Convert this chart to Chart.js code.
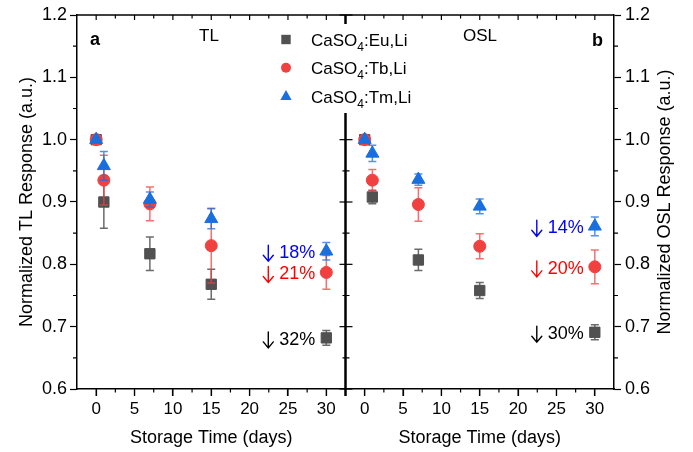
<!DOCTYPE html>
<html>
<head>
<meta charset="utf-8">
<script src="https://cdn.jsdelivr.net/npm/chart.js@4.4.1/dist/chart.umd.min.js"></script>
<style>
  html, body { margin: 0; padding: 0; background: #fff; }
  #wrap { width: 693px; height: 452px; }
</style>
</head>
<body>
<div id="wrap"><canvas id="chart" width="693" height="452"></canvas></div>
<script>
// storage time (days)
const days = [0, 1, 7, 15, 30];
const xTicks = [0, 5, 10, 15, 20, 25, 30];
const yTicks = [0.6, 0.7, 0.8, 0.9, 1.0, 1.1, 1.2];

// legend: CaSO4:Eu,Li / CaSO4:Tb,Li / CaSO4:Tm,Li
const dopants = [':Eu,Li', ':Tb,Li', ':Tm,Li'];

// panel a - TL
const tlEu = [1.000, 0.900, 0.817, 0.768, 0.682];
const tlEuErr = [0.004, 0.042, 0.027, 0.024, 0.012];
const tlTb = [1.000, 0.935, 0.897, 0.830, 0.787];
const tlTbErr = [0.004, 0.040, 0.027, 0.060, 0.027];
const tlTm = [1.000, 0.958, 0.904, 0.873, 0.821];
const tlTmErr = [0.003, 0.023, 0.012, 0.016, 0.014];
const tlDrop = ['32%', '21%', '18%'];

// panel b - OSL
const oslEu = [1.000, 0.908, 0.807, 0.758, 0.691];
const oslEuErr = [0.004, 0.011, 0.017, 0.013, 0.012];
const oslTb = [1.000, 0.935, 0.896, 0.829, 0.796];
const oslTbErr = [0.004, 0.017, 0.027, 0.020, 0.027];
const oslTm = [1.000, 0.978, 0.936, 0.893, 0.861];
const oslTmErr = [0.003, 0.013, 0.009, 0.012, 0.015];
const oslDrop = ['30%', '20%', '14%'];

const FONT = "'Liberation Sans', Arial, sans-serif";
const colors = ['#515151', '#F14040', '#1A6FDF'];
const errColors = ['rgba(81,81,81,0.85)', 'rgba(241,64,64,0.75)', 'rgba(26,111,223,0.75)'];
const textColors = ['#000000', '#ff0000', '#0000ff'];
const shapes = ['rect', 'circle', 'triangle'];
const radii = [7.3, 6, 7.5];

function makeSet(values, errs, k, xAxisID, drop) {
  return {
    label: 'CaSO4' + dopants[k],
    xAxisID: xAxisID,
    yAxisID: 'y',
    data: days.map((d, i) => ({ x: d, y: values[i] })),
    err: errs,
    drop: drop,
    k: k,
    pointStyle: shapes[k],
    pointRadius: radii[k],
    pointHoverRadius: radii[k],
    backgroundColor: colors[k],
    borderColor: colors[k],
    borderWidth: 1,
    showLine: false,
    order: 3 - k
  };
}

const datasets = [
  makeSet(tlEu, tlEuErr, 0, 'x1', tlDrop[0]),
  makeSet(tlTb, tlTbErr, 1, 'x1', tlDrop[1]),
  makeSet(tlTm, tlTmErr, 2, 'x1', tlDrop[2]),
  makeSet(oslEu, oslEuErr, 0, 'x2', oslDrop[0]),
  makeSet(oslTb, oslTbErr, 1, 'x2', oslDrop[1]),
  makeSet(oslTm, oslTmErr, 2, 'x2', oslDrop[2])
];

// error bars, drawn just before each dataset's symbols
const errorBars = {
  id: 'errorBars',
  beforeDatasetDraw(chart, args) {
    const ds = chart.data.datasets[args.index];
    const xs = chart.scales[args.meta.xAxisID];
    const ys = chart.scales.y;
    const ctx = chart.ctx;
    ctx.save();
    ctx.strokeStyle = errColors[ds.k];
    ctx.lineWidth = 1.5;
    ds.data.forEach((p, i) => {
      const px = xs.getPixelForValue(p.x);
      const y1 = ys.getPixelForValue(p.y + ds.err[i]);
      const y2 = ys.getPixelForValue(p.y - ds.err[i]);
      ctx.beginPath();
      ctx.moveTo(px, y1); ctx.lineTo(px, y2);
      ctx.moveTo(px - 4, y1); ctx.lineTo(px + 4, y1);
      ctx.moveTo(px - 4, y2); ctx.lineTo(px + 4, y2);
      ctx.stroke();
    });
    ctx.restore();
  }
};

function marker(ctx, k, x, y, r) {
  ctx.beginPath();
  if (k === 0) {
    ctx.rect(x - r, y - r, 2 * r, 2 * r);
  } else if (k === 1) {
    ctx.arc(x, y, r, 0, Math.PI * 2);
  } else {
    ctx.moveTo(x, y - r * 1.1);
    ctx.lineTo(x + r, y + r * 0.7);
    ctx.lineTo(x - r, y + r * 0.7);
    ctx.closePath();
  }
  ctx.fillStyle = colors[k];
  ctx.fill();
}

// thin down arrow, tip at (x, yb)
function downArrow(ctx, x, yt, yb, color) {
  ctx.save();
  ctx.strokeStyle = color;
  ctx.lineWidth = 1.4;
  ctx.lineCap = 'round';
  ctx.beginPath();
  ctx.moveTo(x, yt); ctx.lineTo(x, yb);
  ctx.moveTo(x - 5, yb - 6); ctx.lineTo(x, yb); ctx.lineTo(x + 5, yb - 6);
  ctx.stroke();
  ctx.restore();
}

// frame, minor ticks, middle axis, legend, labels
const decor = {
  id: 'decor',
  afterDraw(chart) {
    const ctx = chart.ctx;
    const a = chart.chartArea;
    const x1 = chart.scales.x1, x2 = chart.scales.x2, y = chart.scales.y;
    const mid = x1.right;
    ctx.save();
    ctx.strokeStyle = '#000';

    // top frame line + inward ticks, minor ticks at bottom
    ctx.lineWidth = 1.5;
    ctx.beginPath();
    ctx.moveTo(a.left, a.top); ctx.lineTo(a.right, a.top);
    ctx.stroke();
    ctx.lineWidth = 1.2;
    [x1, x2].forEach(s => {
      for (let v = 0; v <= 30; v += 2.5) {
        const px = s.getPixelForValue(v);
        const len = v % 5 === 0 ? 5 : 3.5;
        ctx.beginPath();
        ctx.moveTo(px, a.top); ctx.lineTo(px, a.top + len);
        ctx.moveTo(px, a.bottom); ctx.lineTo(px, a.bottom + (v % 5 === 0 ? 7 : 3.5));
        ctx.stroke();
      }
    });

    // minor y ticks on outer axes, ticks on middle axis
    for (let i = 0; i < yTicks.length; i++) {
      const py = y.getPixelForValue(yTicks[i]);
      ctx.beginPath();
      ctx.moveTo(mid - 6, py); ctx.lineTo(mid + 7, py);
      ctx.stroke();
      if (i < yTicks.length - 1) {
        const pm = y.getPixelForValue((yTicks[i] + yTicks[i + 1]) / 2);
        ctx.beginPath();
        ctx.moveTo(a.left - 4, pm); ctx.lineTo(a.left, pm);
        ctx.moveTo(a.right, pm); ctx.lineTo(a.right + 4, pm);
        ctx.moveTo(mid - 3, pm); ctx.lineTo(mid + 4, pm);
        ctx.stroke();
      }
    }
    ctx.lineWidth = 2.5;
    ctx.beginPath();
    ctx.moveTo(mid, a.top); ctx.lineTo(mid, a.bottom + 7);
    ctx.stroke();

    // legend
    ctx.fillStyle = '#fff';
    ctx.fillRect(268, 24, 172, 89);
    for (let k = 0; k < 3; k++) {
      const base = 46 + k * 28.3;
      marker(ctx, k, 286, base - 6.5, k === 0 ? 4.7 : k === 1 ? 5 : 5.6);
      ctx.fillStyle = '#000';
      ctx.textBaseline = 'alphabetic';
      ctx.textAlign = 'left';
      ctx.font = '17px ' + FONT;
      ctx.fillText('CaSO', 311, base);
      let w = ctx.measureText('CaSO').width;
      ctx.font = '12px ' + FONT;
      ctx.fillText('4', 311 + w, base + 5);
      w += ctx.measureText('4').width;
      ctx.font = '17px ' + FONT;
      ctx.fillText(dopants[k], 311 + w, base);
    }

    // percentage drop next to the last point of each series
    ctx.font = '18px ' + FONT;
    ctx.textAlign = 'right';
    ctx.textBaseline = 'middle';
    chart.data.datasets.forEach(ds => {
      const xs = chart.scales[ds.xAxisID];
      const last = ds.data[ds.data.length - 1];
      const right = xs.getPixelForValue(last.x) - 11;
      const cy = y.getPixelForValue(last.y) + 2;
      ctx.fillStyle = textColors[ds.k];
      ctx.fillText(ds.drop, right, cy);
      const w = ctx.measureText(ds.drop).width;
      downArrow(ctx, right - w - 11, cy - 8, cy + 8, textColors[ds.k]);
    });

    // panel labels
    ctx.fillStyle = '#000';
    ctx.textBaseline = 'alphabetic';
    ctx.textAlign = 'left';
    ctx.font = 'bold 18px ' + FONT;
    ctx.fillText('a', a.left + 13, 45);
    ctx.fillText('b', x2.right - 22, 46);
    ctx.font = '17px ' + FONT;
    ctx.fillText('TL', 199, 41);
    ctx.fillText('OSL', 463, 41);

    // right axis title (reads bottom to top)
    ctx.translate(665.5, (a.top + a.bottom) / 2);
    ctx.rotate(-Math.PI / 2);
    ctx.textAlign = 'center';
    ctx.textBaseline = 'middle';
    ctx.font = '18px ' + FONT;
    ctx.fillText('Normalized OSL Response (a.u.)', 0, 0);
    ctx.restore();
  }
};

function xScale() {
  return {
    type: 'linear',
    position: 'bottom',
    stack: 'x',
    stackWeight: 1,
    min: -2.5,
    max: 32.5,
    afterBuildTicks: s => { s.ticks = xTicks.map(v => ({ value: v })); },
    afterFit: s => { s.height = 63; },
    ticks: { color: '#000', font: { family: FONT, size: 17 }, padding: 3, maxRotation: 0, autoSkip: false },
    grid: { display: true, drawOnChartArea: false, tickLength: 7, tickColor: '#000', tickWidth: 1.2 },
    border: { display: true, color: '#000', width: 1.5 },
    title: { display: true, text: 'Storage Time (days)', color: '#000', font: { family: FONT, size: 18 }, padding: { top: 0, bottom: 3 } }
  };
}

function yScale(pos, width, withTitle) {
  return {
    type: 'linear',
    position: pos,
    min: 0.6,
    max: 1.2,
    afterBuildTicks: s => { s.ticks = yTicks.map(v => ({ value: v })); },
    afterFit: s => { s.width = width; },
    ticks: { color: '#000', font: { family: FONT, size: 18 }, padding: pos === 'left' ? 3 : 4, callback: v => Number(v).toFixed(1) },
    grid: { display: true, drawOnChartArea: false, tickLength: 7, tickColor: '#000', tickWidth: 1.2 },
    border: { display: true, color: '#000', width: 1.5 },
    title: { display: withTitle, text: 'Normalized TL Response (a.u.)', color: '#000', font: { family: FONT, size: 18 }, padding: { top: 16, bottom: 0 } }
  };
}

new Chart(document.getElementById('chart'), {
  type: 'scatter',
  data: { datasets: datasets },
  plugins: [errorBars, decor],
  options: {
    responsive: false,
    animation: false,
    layout: { padding: { top: 15, left: 0, right: 0, bottom: 0 } },
    plugins: { legend: { display: false }, tooltip: { enabled: false } },
    scales: {
      x1: xScale(),
      x2: xScale(),
      y: yScale('left', 77, true),
      y2: yScale('right', 79, false)
    }
  }
});
</script>
</body>
</html>
